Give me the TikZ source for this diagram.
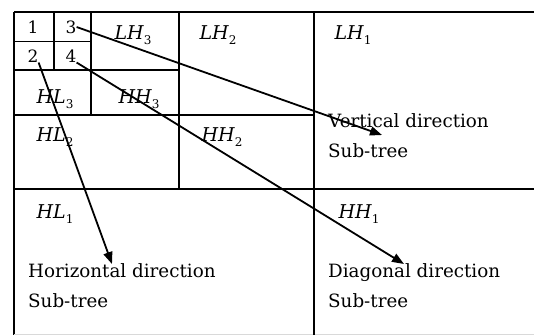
\documentclass[tikz,border=0pt]{standalone}
\usepackage{fontspec}
\setmainfont{DejaVu Serif}
\usetikzlibrary{arrows.meta}
\newcommand{\sbs}[1]{\raisebox{-0.55ex}{\fontsize{12}{12}\selectfont\upshape #1}}
\begin{document}
\begin{tikzpicture}[x=1pt,y=-1pt,
  grid/.style={line width=1.9pt,black},
  lbl/.style={inner sep=0pt,font=\fontsize{19}{21}\selectfont\itshape},
  num/.style={inner sep=0pt,font=\fontsize{17}{19}\selectfont},
  txt/.style={inner sep=0pt,anchor=base west,align=left,font=\fontsize{18.3}{29.5}\selectfont},
  arr/.style={line width=1.8pt,-{Triangle[length=12pt,width=9pt]}}]
\useasboundingbox (0,0) rectangle (534,335);
\fill[white] (0,0) rectangle (534,335);
% outer frame
\draw[grid] (14,12) -- (534,12);
\draw[grid] (14,12) -- (14,335);
\draw[black!15,line width=1pt] (14,334) -- (534,334);
% level 1
\draw[grid] (314,12) -- (314,335);
\draw[grid] (14,189) -- (534,189);
% level 2
\draw[grid] (179,12) -- (179,189);
\draw[grid] (14,115) -- (314,115);
% level 3
\draw[grid] (91,12) -- (91,115);
\draw[grid] (14,70) -- (179,70);
% level 4
\draw[grid] (54,12) -- (54,70);
\draw[grid] (14,41.5) -- (91,41.5);
% numbers
\node[num] (n1) at (33,27) {1};
\node[num] (n3) at (71,27) {3};
\node[num] (n2) at (33,56) {2};
\node[num] (n4) at (71,56) {4};
% labels
\node[lbl] (lh3) at (133,35) {LH\sbs{3}};
\node[lbl] (lh2) at (218,35) {LH\sbs{2}};
\node[lbl] (lh1) at (353,35) {LH\sbs{1}};
\node[lbl] (hl3) at (55,99) {HL\sbs{3}};
\node[lbl] (hh3) at (139,99) {HH\sbs{3}};
\node[lbl] (hl2) at (55,137) {HL\sbs{2}};
\node[lbl] (hh2) at (222,137) {HH\sbs{2}};
\node[lbl] (hl1) at (55,214) {HL\sbs{1}};
\node[lbl] (hh1) at (359,214) {HH\sbs{1}};
% texts (anchor is the baseline of the last line)
\node[txt] (vt) at (328,157) {Vertical direction\\Sub-tree};
\node[txt] (ht) at (28,307) {Horizontal direction\\Sub-tree};
\node[txt] (dt) at (328,307) {Diagonal direction\\Sub-tree};
% arrow targets
\coordinate (va) at (382,135);
\coordinate (ha) at (112,264);
\coordinate (da) at (404,264);
\draw[arr] (n3.east) -- (va);
\draw[arr] (n2.south east) -- (ha);
\draw[arr] (n4.south east) -- (da);
\end{tikzpicture}
\end{document}
